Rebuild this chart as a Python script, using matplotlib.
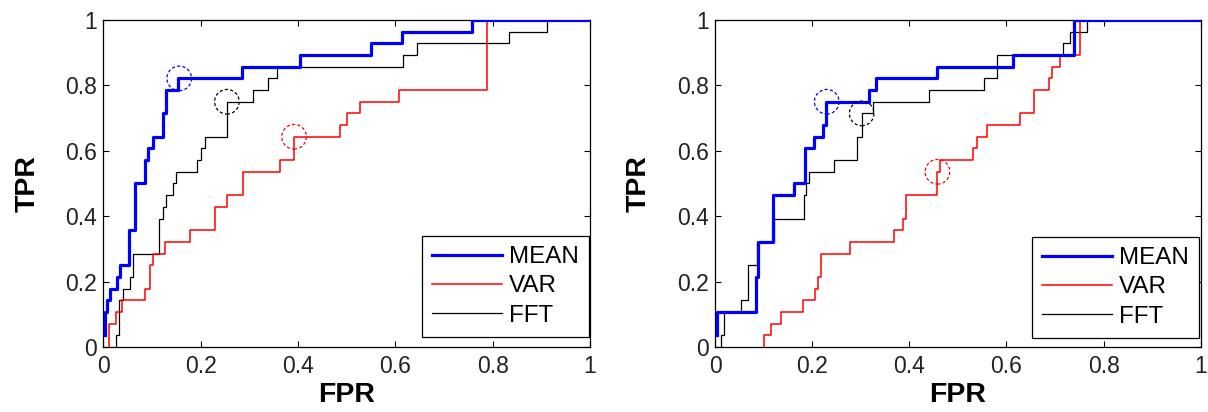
import numpy as np
import matplotlib
matplotlib.use('Agg')
import matplotlib.pyplot as plt
from matplotlib.patches import Ellipse

plt.rcParams['font.family'] = ['Liberation Sans', 'DejaVu Sans']

# TPR steps are in units of 1/28 (28 positives)
N_POS = 28.0

# ---- left panel: (fpr where the curve steps up, tpr count after step)
L_mean_fpr = [0.0035, 0.0035, 0.008, 0.014, 0.029, 0.034, 0.053, 0.065, 0.086, 0.0925,
              0.103, 0.122, 0.128, 0.154, 0.286, 0.404, 0.551, 0.613, 0.757, 1.0]
L_mean_tp = [1, 3, 4, 5, 6, 7, 10, 14, 16, 17, 18, 20, 22, 23, 24, 25, 26, 27, 28, 28]

L_var_fpr = [0.012, 0.012, 0.027, 0.038, 0.086, 0.096, 0.103, 0.127, 0.178, 0.229,
             0.254, 0.288, 0.363, 0.392, 0.486, 0.5, 0.527, 0.608, 0.788, 1.0]
L_var_tp = [0, 2, 3, 4, 5, 7, 8, 9, 10, 12, 13, 15, 16, 18, 19, 20, 21, 22, 28, 28]

L_fft_fpr = [0.026, 0.026, 0.032, 0.040, 0.055, 0.062, 0.115, 0.122, 0.129, 0.144, 0.149,
             0.192, 0.201, 0.208, 0.254, 0.308, 0.339, 0.356, 0.615, 0.644, 0.834, 0.911, 1.0]
L_fft_tp = [0, 1, 4, 5, 6, 8, 11, 12, 13, 14, 15, 16, 17, 18, 21, 22, 23, 24, 25, 26, 27, 28, 28]

# operating points (circles): MEAN, VAR, FFT
L_ops_fpr = [0.156, 0.392, 0.254]
L_ops_tp = [23, 18, 21]

# ---- right panel
R_mean_fpr = [0.0034, 0.0034, 0.0844, 0.089, 0.12, 0.163, 0.185, 0.204, 0.222, 0.229,
              0.318, 0.331, 0.456, 0.614, 0.74, 1.0]
R_mean_tp = [1, 3, 6, 9, 13, 14, 17, 18, 19, 21, 22, 23, 24, 25, 28, 28]

R_var_fpr = [0.1016, 0.1016, 0.115, 0.135, 0.182, 0.206, 0.211, 0.218, 0.278, 0.368, 0.388,
             0.393, 0.458, 0.463, 0.531, 0.539, 0.559, 0.628, 0.657, 0.688, 0.693, 0.71,
             0.751, 1.0]
R_var_tp = [0, 1, 2, 3, 4, 5, 6, 8, 9, 10, 11, 13, 15, 16, 17, 18, 19, 20, 22, 23, 24, 25,
            28, 28]

R_fft_fpr = [0.0124, 0.0124, 0.019, 0.0535, 0.067, 0.087, 0.121, 0.183, 0.187, 0.194,
             0.244, 0.292, 0.302, 0.326, 0.441, 0.554, 0.58, 0.716, 0.73, 0.765, 1.0]
R_fft_tp = [0, 1, 3, 4, 7, 9, 11, 13, 14, 15, 16, 18, 20, 21, 22, 23, 25, 26, 27, 28, 28]

R_ops_fpr = [0.23, 0.458, 0.302]
R_ops_tp = [21, 15, 20]

names = ['MEAN', 'VAR', 'FFT']
colors = ['#0000ff', '#ff0000', '#000000']
widths = [2.3, 1.1, 0.9]
ticks = [0, 0.2, 0.4, 0.6, 0.8, 1]
tick_labels = ['0', '0.2', '0.4', '0.6', '0.8', '1']

fig = plt.figure(figsize=(12.08, 4.12), dpi=100)
ax1 = fig.add_axes([0.0855, 0.1578, 0.4029, 0.7937])
ax2 = fig.add_axes([0.5919, 0.1578, 0.4021, 0.7937])

panels = [
    (ax1, [(L_mean_fpr, L_mean_tp), (L_var_fpr, L_var_tp), (L_fft_fpr, L_fft_tp)],
     L_ops_fpr, L_ops_tp, (0.998, 0.031)),
    (ax2, [(R_mean_fpr, R_mean_tp), (R_var_fpr, R_var_tp), (R_fft_fpr, R_fft_tp)],
     R_ops_fpr, R_ops_tp, (0.9965, 0.028)),
]

for ax, curves, ops_x, ops_tp, leg_anchor in panels:
    # draw in reverse so MEAN ends on top
    for i in [2, 1, 0]:
        fx, tp = curves[i]
        ax.plot(fx, np.array(tp) / N_POS, drawstyle='steps-post', color=colors[i],
                lw=widths[i], label=names[i], zorder=3 + (2 - i))
    # circle around each operating point, dashed like the original
    bbox = ax.get_position()
    w_px = bbox.width * fig.get_figwidth() * fig.dpi
    h_px = bbox.height * fig.get_figheight() * fig.dpi
    r_px = 12.3
    for i in range(3):
        e = Ellipse((ops_x[i], ops_tp[i] / N_POS), 2 * r_px / w_px, 2 * r_px / h_px,
                    fill=False, edgecolor=colors[i], lw=0.9, ls=(0, (2.5, 1.8)), zorder=6)
        ax.add_patch(e)

    ax.set_xlim(0, 1)
    ax.set_ylim(0, 1)
    ax.set_xticks(ticks)
    ax.set_xticklabels(tick_labels)
    ax.set_yticks(ticks)
    ax.set_yticklabels(tick_labels)
    ax.tick_params(direction='in', length=4, width=0.8, top=True, right=True,
                   labelsize=16.5, labelcolor='#222222')
    ax.tick_params(axis='x', pad=6)
    ax.tick_params(axis='y', pad=4.5)
    for s in ax.spines.values():
        s.set_linewidth(0.9)
    ax.set_xlabel('FPR', fontsize=20.5, fontweight='bold', labelpad=3)
    ax.set_ylabel('TPR', fontsize=20.5, fontweight='bold', labelpad=18)

    handles, labels = ax.get_legend_handles_labels()
    order = [labels.index(n) for n in names]
    leg = ax.legend([handles[k] for k in order], [labels[k] for k in order],
                    loc='lower right', bbox_to_anchor=leg_anchor, fontsize=17.4,
                    fancybox=False, framealpha=1, edgecolor='black',
                    handlelength=2.9, handletextpad=0.3, labelspacing=0.3,
                    borderpad=0.42, borderaxespad=0)
    leg.get_frame().set_linewidth(0.9)

fig.savefig('out.png', dpi=100)
